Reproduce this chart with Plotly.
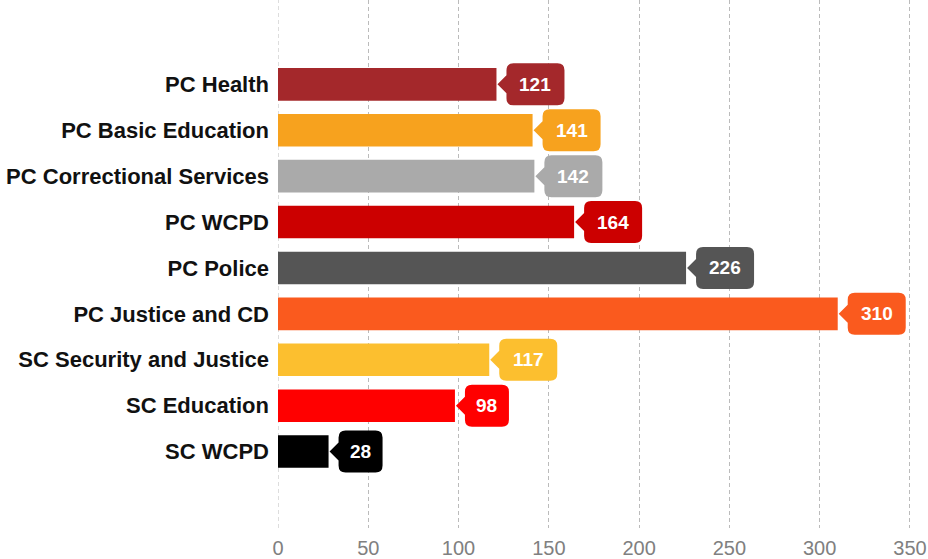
import plotly.graph_objects as go

# Committee names, counts and bar colours
committees = [
    "PC Health",
    "PC Basic Education",
    "PC Correctional Services",
    "PC WCPD",
    "PC Police",
    "PC Justice and CD",
    "SC Security and Justice",
    "SC Education",
    "SC WCPD",
]
counts = [121, 141, 142, 164, 226, 310, 117, 98, 28]
colors = [
    "#A4282B", "#F7A21E", "#AAAAAA", "#CC0000", "#555555",
    "#FA5A1E", "#FCBF2F", "#FF0000", "#000000",
]
x_ticks = [0, 50, 100, 150, 200, 250, 300, 350]

FONT = "Liberation Sans, Arial, Helvetica, sans-serif"
GRID = "#BBBBBB"
DASH = "4px,3px"
positions = list(range(len(committees)))

fig = go.Figure()
fig.add_trace(go.Bar(
    x=counts,
    y=positions,
    orientation="h",
    width=0.71,
    marker=dict(color=colors, line=dict(width=0)),
    hoverinfo="skip",
    showlegend=False,
))


def bubble_path(w, h=42, gap=1, arrow=9, half=9, r=7):
    """Rounded label box with a left-pointing arrow, in pixels from the bar end."""
    L = gap + arrow
    R = L + w
    T = -h / 2
    B = h / 2
    return (
        f"M {gap},0 L {L},{-half} L {L},{T + r} Q {L},{T} {L + r},{T} "
        f"L {R - r},{T} Q {R},{T} {R},{T + r} L {R},{B - r} Q {R},{B} {R - r},{B} "
        f"L {L + r},{B} Q {L},{B} {L},{B - r} L {L},{half} Z"
    )


# dashed line along the zero value (the grid skips the plot edge)
shapes = [dict(
    type="line", xref="x", yref="paper",
    x0=0, x1=0, y0=0, y1=1,
    line=dict(color=GRID, width=1, dash=DASH),
    layer="below",
)]
annotations = []
for i, (v, c) in enumerate(zip(counts, colors)):
    label = str(v)
    w = 16 + 14 * len(label)
    shapes.append(dict(
        type="path",
        xref="x", yref="y",
        xsizemode="pixel", ysizemode="pixel",
        xanchor=v, yanchor=i,
        path=bubble_path(w),
        fillcolor=c,
        line=dict(width=0),
        layer="above",
    ))
    annotations.append(dict(
        x=v, y=i, xref="x", yref="y",
        text=f"<b>{label}</b>",
        showarrow=False,
        xanchor="center", yanchor="middle",
        xshift=10 + w / 2,
        font=dict(family=FONT, size=19, color="white"),
    ))

fig.update_layout(
    width=928, height=559,
    margin=dict(l=278, r=0, t=0, b=27),
    paper_bgcolor="white",
    plot_bgcolor="white",
    bargap=0.3,
    shapes=shapes,
    annotations=annotations,
    font=dict(family=FONT),
    xaxis=dict(
        range=[0, 360],
        tickvals=x_ticks,
        ticktext=[str(t) for t in x_ticks],
        showgrid=True,
        gridcolor=GRID,
        gridwidth=1,
        griddash=DASH,
        zeroline=False,
        showline=False,
        ticks="",
        tickfont=dict(family=FONT, size=20, color="#808080"),
        ticklabelstandoff=6,
    ),
    yaxis=dict(
        range=[9.665, -1.838],
        tickvals=positions,
        ticktext=[f"<b>{c}</b>" for c in committees],
        showgrid=False,
        zeroline=False,
        showline=False,
        ticks="",
        tickfont=dict(family=FONT, size=22, color="#111111"),
        ticklabelstandoff=8,
    ),
)

fig.write_html("out.html")
